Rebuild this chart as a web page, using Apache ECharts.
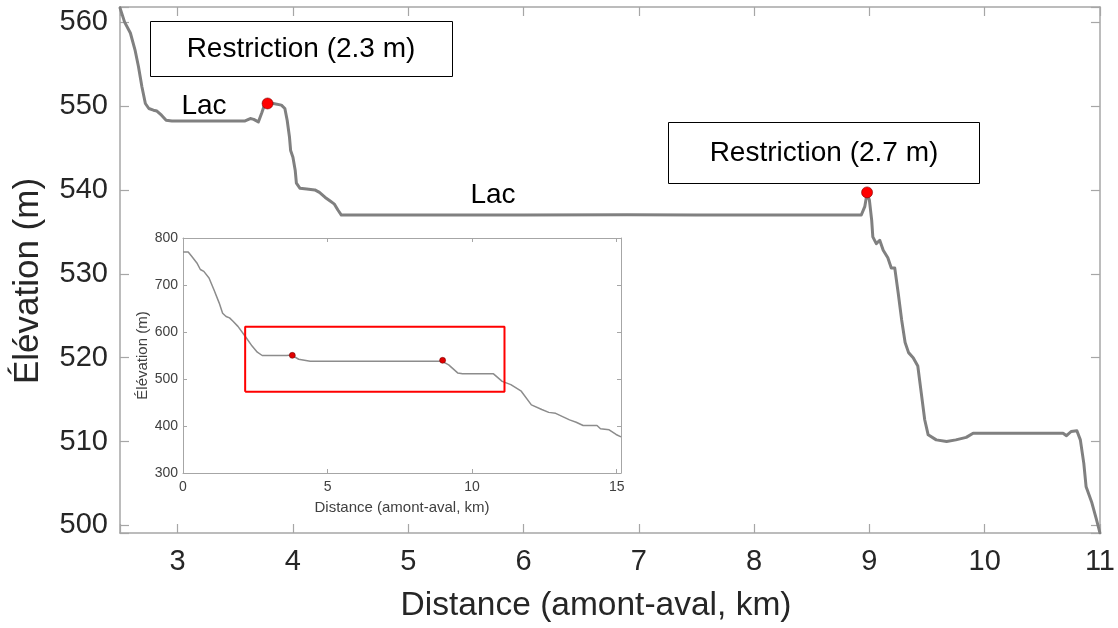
<!DOCTYPE html>
<html>
<head>
<meta charset="utf-8">
<script src="https://cdn.jsdelivr.net/npm/echarts@6/dist/echarts.min.js"></script>
<style>
  html, body { margin: 0; padding: 0; background: #fff; }
  #chart { width: 1118px; height: 628px; }
</style>
</head>
<body>
<div id="chart"></div>
<script>
// main profile, zoomed on the two restrictions (km, m)
const mainDist = [2.50, 2.54, 2.59, 2.63, 2.66, 2.69, 2.72, 2.75, 2.79, 2.82, 2.86, 2.90, 2.95, 3.10, 3.30, 3.45,
  3.58, 3.63, 3.66, 3.70, 3.73, 3.75, 3.78, 3.83, 3.90, 3.93, 3.95, 3.97, 3.98, 4.00, 4.02, 4.03, 4.06, 4.12,
  4.19, 4.23, 4.28, 4.32, 4.36, 4.39, 4.42, 5.20, 6.00, 6.90, 7.50, 8.30, 8.93, 8.96, 8.98, 9.00, 9.02, 9.03,
  9.06, 9.09, 9.12, 9.16, 9.19, 9.22, 9.25, 9.28, 9.31, 9.34, 9.38, 9.42, 9.45, 9.48, 9.51, 9.58, 9.67, 9.75,
  9.84, 9.90, 10.30, 10.68, 10.71, 10.75, 10.80, 10.83, 10.86, 10.88, 10.93, 10.97, 11.00];
const mainElev = [561.7, 560.0, 558.7, 556.7, 554.7, 552.3, 550.3, 549.7, 549.5, 549.4, 548.9, 548.3, 548.2, 548.2, 548.2, 548.2,
  548.2, 548.5, 548.4, 548.1, 549.2, 550.0, 550.3, 550.3, 550.1, 549.7, 548.3, 546.3, 544.7, 543.9, 542.3, 540.8, 540.2, 540.1,
  540.0, 539.7, 539.1, 538.7, 538.3, 537.6, 537.0, 537.0, 537.0, 537.05, 537.0, 537.0, 537.0, 538.0, 539.6, 538.8, 536.4, 534.4,
  533.6, 534.0, 532.8, 531.9, 530.7, 530.7, 527.7, 524.5, 521.8, 520.6, 520.0, 519.0, 515.8, 512.6, 510.8, 510.2, 510.0, 510.2,
  510.5, 511.0, 511.0, 511.0, 510.7, 511.2, 511.3, 510.2, 507.4, 504.6, 502.7, 500.7, 499.1];

// full profile shown in the inset
const fullDist = [0, 0.18, 0.30, 0.48, 0.60, 0.72, 0.90, 1.07, 1.25, 1.37, 1.49, 1.61, 1.73, 1.90, 2.15, 2.39, 2.57, 2.74,
  3.10, 3.58, 3.76, 4.00, 4.40, 5.50, 8.95, 9.19, 9.50, 9.67, 10.74, 11.04, 11.34, 11.70, 12.05, 12.41, 12.65,
  12.89, 13.13, 13.37, 13.60, 13.84, 14.32, 14.44, 14.74, 14.98, 15.15];
const fullElev = [770, 770, 761, 747, 733, 729, 715, 690, 662, 640, 633, 630, 623, 612, 591, 570, 557, 550,
  550, 550, 551, 542, 538, 538, 538, 530, 513, 511, 511, 495, 488, 474, 445, 435, 429,
  427, 420, 413, 408, 401, 401, 394, 392, 382, 377];

const restrictionKm = [3.78, 8.98];
const restrictionElev = [550.3, 539.7];
const restrictionLabels = ['Restriction (2.3 m)', 'Restriction (2.7 m)'];

// red frame in the inset (km, m)
const zoomBoxKm = [2.15, 11.12];
const zoomBoxElev = [473, 611];

const font = 'Arial, "Liberation Sans", sans-serif';
const axisGray = '#a6a6a6';
const textDark = '#262626';

const pairs = (xs, ys) => xs.map((x, i) => [x, ys[i]]);
const boxPath = [
  [zoomBoxKm[0], zoomBoxElev[0]], [zoomBoxKm[1], zoomBoxElev[0]],
  [zoomBoxKm[1], zoomBoxElev[1]], [zoomBoxKm[0], zoomBoxElev[1]],
  [zoomBoxKm[0], zoomBoxElev[0]]
];

const boxAxis = (extra) => Object.assign({
  type: 'value',
  axisLine: { show: true, onZero: false, lineStyle: { color: axisGray, width: 1.5 } },
  axisTick: { show: true, inside: true, length: 9, lineStyle: { color: axisGray, width: 1.2 } },
  splitLine: { show: false },
  axisLabel: { show: false }
}, extra);

const chart = echarts.init(document.getElementById('chart'), null, { renderer: 'canvas' });

chart.setOption({
  animation: false,
  backgroundColor: '#fff',
  textStyle: { fontFamily: font },
  grid: [
    { left: 120, top: 7, width: 980, height: 526 },
    { left: 183, top: 238, width: 438, height: 235, show: true, backgroundColor: '#fff', borderWidth: 0 }
  ],
  xAxis: [
    boxAxis({
      gridIndex: 0, position: 'bottom', min: 2.5, max: 11, splitNumber: 8,
      axisLabel: {
        show: true, fontSize: 29, color: textDark, fontFamily: font, margin: 14,
        formatter: v => Number.isInteger(v) ? String(v) : ''
      },
      name: 'Distance (amont-aval, km)', nameLocation: 'middle', nameGap: 56,
      nameTextStyle: { fontSize: 33.5, color: textDark, fontFamily: font, padding: [0, 28, 0, 0] }
    }),
    boxAxis({ gridIndex: 0, position: 'top', min: 2.5, max: 11, splitNumber: 8 }),
    boxAxis({
      gridIndex: 1, position: 'bottom', min: 0, max: 15.15, interval: 5,
      axisTick: { show: true, inside: true, length: 4, lineStyle: { color: axisGray } },
      axisLine: { show: true, onZero: false, lineStyle: { color: axisGray, width: 1 } },
      axisLabel: {
        show: true, fontSize: 14, color: '#404040', fontFamily: font, margin: 7,
        formatter: v => v % 5 === 0 ? String(v) : ''
      },
      name: 'Distance (amont-aval, km)', nameLocation: 'middle', nameGap: 27,
      nameTextStyle: { fontSize: 15, color: '#404040', fontFamily: font }
    }),
    boxAxis({
      gridIndex: 1, position: 'top', min: 0, max: 15.15, interval: 5,
      axisTick: { show: true, inside: true, length: 4, lineStyle: { color: axisGray } },
      axisLine: { show: true, onZero: false, lineStyle: { color: axisGray, width: 1 } }
    })
  ],
  yAxis: [
    boxAxis({
      gridIndex: 0, position: 'left', min: 499.1, max: 561.8, splitNumber: 6,
      axisLabel: {
        show: true, fontSize: 29, color: textDark, fontFamily: font, margin: 12,
        formatter: v => Math.abs(v % 10) < 1e-6 ? String(v) : ''
      },
      name: 'Élévation (m)', nameLocation: 'middle', nameGap: 74,
      nameTextStyle: { fontSize: 35, color: textDark, fontFamily: font, padding: [0, 22, 0, 0] }
    }),
    boxAxis({ gridIndex: 0, position: 'right', min: 499.1, max: 561.8, splitNumber: 6 }),
    boxAxis({
      gridIndex: 1, position: 'left', min: 300, max: 800, interval: 100,
      axisTick: { show: true, inside: true, length: 4, lineStyle: { color: axisGray } },
      axisLine: { show: true, onZero: false, lineStyle: { color: axisGray, width: 1 } },
      axisLabel: { show: true, fontSize: 14, color: '#404040', fontFamily: font, margin: 5 },
      name: 'Élévation (m)', nameLocation: 'middle', nameGap: 32,
      nameTextStyle: { fontSize: 15, color: '#404040', fontFamily: font }
    }),
    boxAxis({
      gridIndex: 1, position: 'right', min: 300, max: 800, interval: 100,
      axisTick: { show: true, inside: true, length: 4, lineStyle: { color: axisGray } },
      axisLine: { show: true, onZero: false, lineStyle: { color: axisGray, width: 1 } }
    })
  ],
  series: [
    {
      type: 'line', xAxisIndex: 0, yAxisIndex: 0,
      data: pairs(mainDist, mainElev), showSymbol: false,
      lineStyle: { color: '#808080', width: 3, cap: 'round', join: 'round' }
    },
    {
      type: 'scatter', xAxisIndex: 0, yAxisIndex: 0,
      data: pairs(restrictionKm, restrictionElev), symbolSize: 11, z: 5,
      itemStyle: { color: '#ff0000', borderColor: '#7a0000', borderWidth: 0.6, opacity: 1 }
    },
    {
      type: 'line', xAxisIndex: 2, yAxisIndex: 2,
      data: pairs(fullDist, fullElev), showSymbol: false,
      lineStyle: { color: '#8c8c8c', width: 1.5 }
    },
    {
      type: 'line', xAxisIndex: 2, yAxisIndex: 2,
      data: boxPath, showSymbol: false,
      lineStyle: { color: '#ff0000', width: 2 }
    },
    {
      type: 'scatter', xAxisIndex: 2, yAxisIndex: 2,
      data: pairs(restrictionKm, restrictionElev), symbolSize: 6, z: 5,
      itemStyle: { color: '#e00000', borderColor: '#600000', borderWidth: 0.5, opacity: 1 }
    }
  ],
  graphic: [
    { type: 'rect', shape: { x: 150.5, y: 21.5, width: 302, height: 55 },
      style: { fill: '#fff', stroke: '#000', lineWidth: 1 }, z: 10 },
    { type: 'text', x: 301, y: 49, z: 11,
      style: { text: restrictionLabels[0], font: '28px ' + font, fill: '#000', align: 'center', verticalAlign: 'middle' } },
    { type: 'rect', shape: { x: 668.5, y: 122.5, width: 311, height: 61 },
      style: { fill: '#fff', stroke: '#000', lineWidth: 1 }, z: 10 },
    { type: 'text', x: 824, y: 153, z: 11,
      style: { text: restrictionLabels[1], font: '28px ' + font, fill: '#000', align: 'center', verticalAlign: 'middle' } },
    { type: 'text', x: 204, y: 106, z: 11,
      style: { text: 'Lac', font: '28px ' + font, fill: '#000', align: 'center', verticalAlign: 'middle' } },
    { type: 'text', x: 493, y: 195, z: 11,
      style: { text: 'Lac', font: '28px ' + font, fill: '#000', align: 'center', verticalAlign: 'middle' } }
  ]
});
</script>
</body>
</html>
